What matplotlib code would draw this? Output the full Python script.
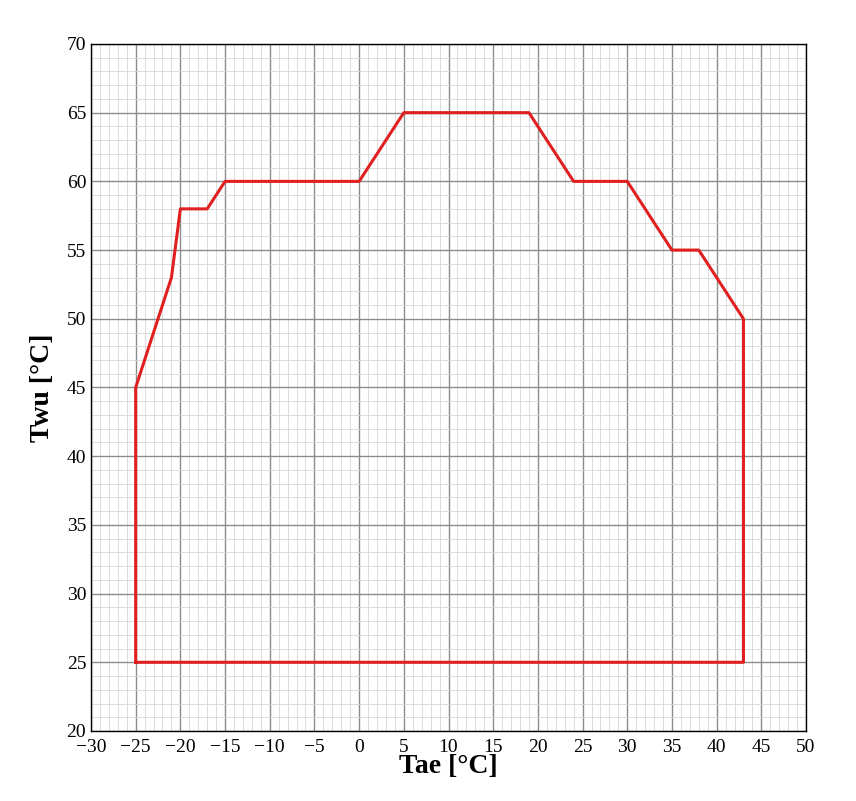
import matplotlib
matplotlib.use("Agg")
import matplotlib.pyplot as plt
from matplotlib.ticker import MultipleLocator

tae = [-25, -25, -21, -20, -17, -15, 0, 5, 19, 24, 30, 35, 38, 43, 43, -25]
twu = [25, 45, 53, 58, 58, 60, 60, 65, 65, 60, 60, 55, 55, 50, 25, 25]

plt.rcParams['font.family'] = ['Liberation Serif', 'DejaVu Serif']
fig = plt.figure(figsize=(8.56, 8.01), dpi=100)
ax = fig.add_axes([0.1063, 0.0874, 0.8353, 0.8577])
ax.set_xlim(-30, 50)
ax.set_ylim(20, 70)
ax.xaxis.set_major_locator(MultipleLocator(5))
ax.yaxis.set_major_locator(MultipleLocator(5))
ax.xaxis.set_minor_locator(MultipleLocator(1))
ax.yaxis.set_minor_locator(MultipleLocator(1))
ax.grid(which='major', color='#8c8c8c', linewidth=1.0)
ax.grid(which='minor', color='#d6d6d6', linewidth=0.6)
ax.set_axisbelow(True)
ax.plot(tae, twu, color='#e02020', linewidth=2.2, zorder=3)
ax.tick_params(which='both', direction='in', labelsize=14, length=0)
ax.tick_params(axis='x', pad=6)
for s in ax.spines.values():
    s.set_linewidth(1.0)
ax.set_xlabel('Tae [°C]', fontsize=20, fontweight='bold', labelpad=-2)
ax.set_ylabel('Twu [°C]', fontsize=20, fontweight='bold', labelpad=8)
fig.savefig('out.png', dpi=100)
